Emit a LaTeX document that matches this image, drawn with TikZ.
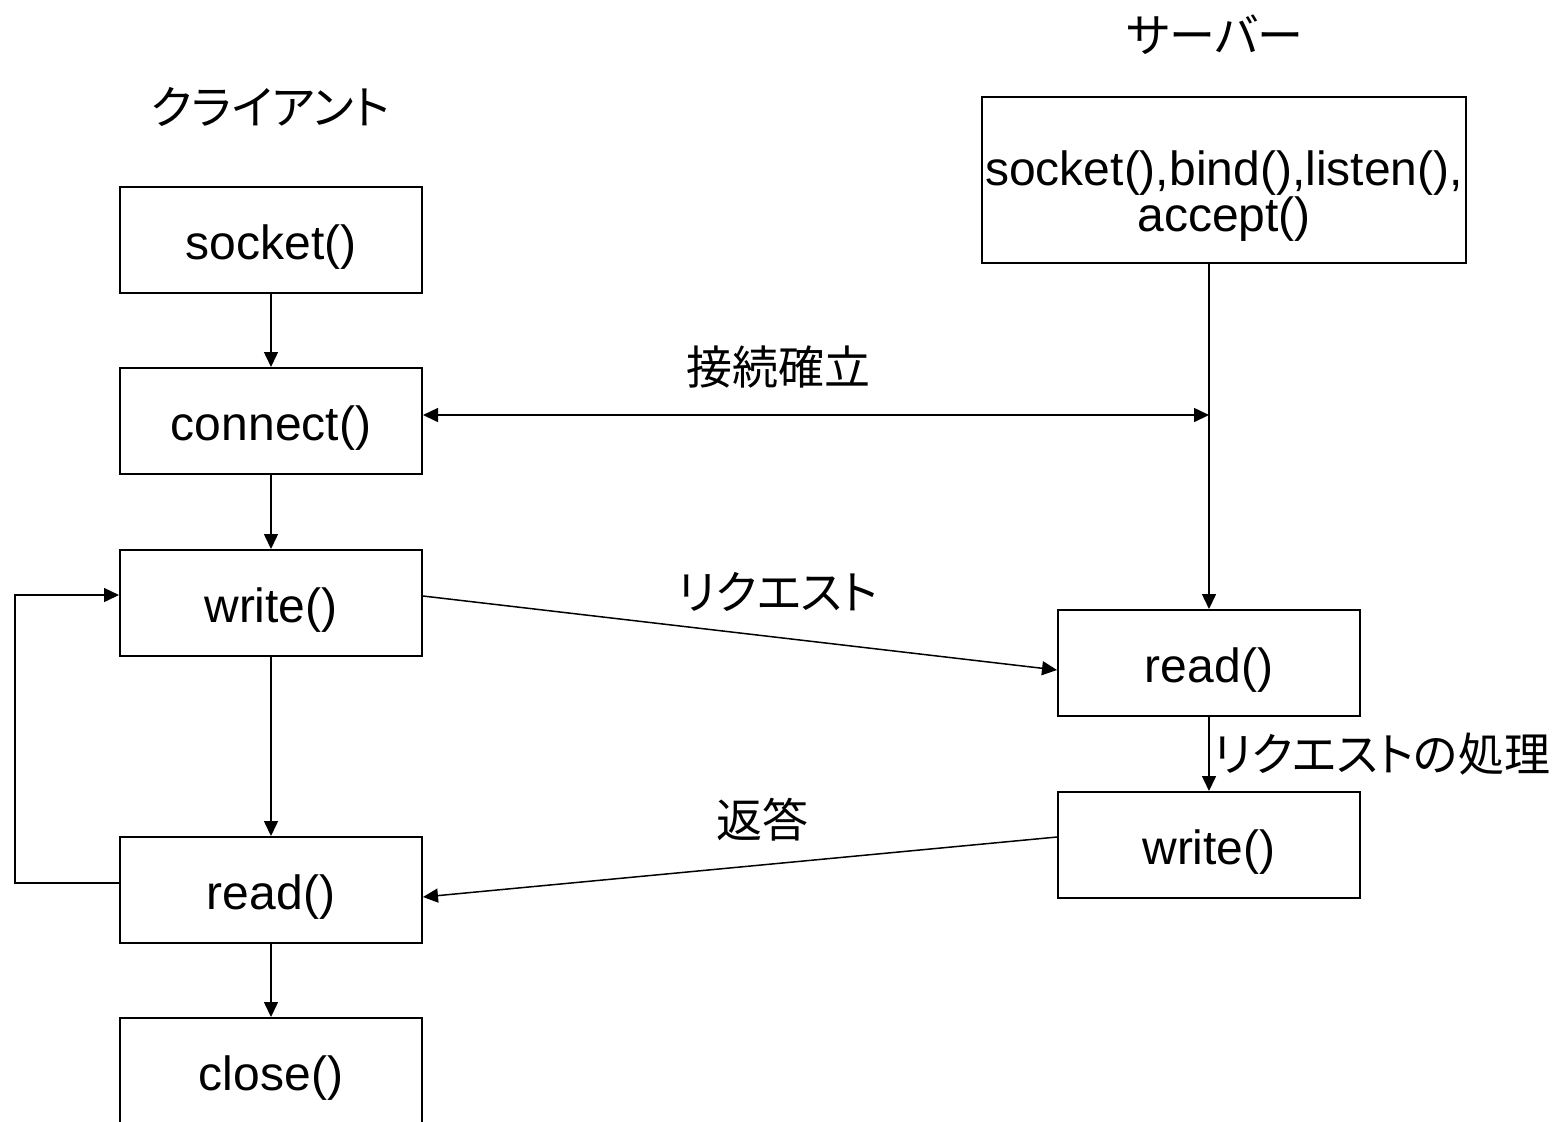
\documentclass[tikz,border=0pt]{standalone}
\usepackage{fontspec}
\setmainfont{Liberation Sans}
\newfontfamily\jfont[RawFeature=+palt]{Noto Sans CJK JP}
\usetikzlibrary{arrows.meta}
\tikzset {>={Triangle[length=7.5pt,width=7pt]}}

\begin{document}
\begin{tikzpicture}[x=.5pt,y=-.5pt,line width=.75pt,
  font=\fontsize{24}{23}\selectfont,
  frame/.style={draw,line width=1pt,minimum width=151pt,minimum height=53pt,inner sep=1pt},
  func/.style={frame,text height=24pt,text depth=5pt},
  jlabel/.style={font=\fontsize{23}{23}\selectfont\jfont,inner sep=0pt}]
\useasboundingbox (0,0) rectangle (1552,1121);

% client side
\node[jlabel] (client) at (270,107) {クライアント};
\node[func] (csock)  at (271,240)  {socket()};
\node[func] (cconn)  at (271,421)  {connect()};
\node[func] (cwrite) at (271,603)  {write()};
\node[func] (cread)  at (271,890)  {read()};
\node[func] (cclose) at (271,1071) {close()};

% server side
\node[jlabel] (server) at (1215,35) {サーバー};
\node[frame,minimum width=242pt,minimum height=83pt] (sinit) at (1224,180) {};
\node[align=center,anchor=north,inner sep=0pt] (sinittext) at (1224,150)
  {socket(),bind(),listen(),\\accept()};
\node[func] (sread)  at (1209,663) {read()};
\node[func] (swrite) at (1209,845) {write()};

\coordinate (estab) at (1209,415);
\coordinate (loop) at (15,883);

\draw[->] (csock) -- (cconn);
\draw[->] (cconn) -- (cwrite);
\draw[->] (cwrite) -- (cread);
\draw[->] (cread) -- (cclose);
\draw[->] ([yshift=3.5pt]cread.west) -- (loop) |- ([yshift=4pt]cwrite.west);

\draw[->] (sinit.south -| sread.north) -- (sread);
\draw[->] (sread) -- (swrite)
  node[jlabel,midway,right,xshift=2pt] (proc) {リクエストの処理};

\draw[<->] (cconn.east |- estab) -- (estab);
\draw[->] ([yshift=3.5pt]cwrite.east) -- ([yshift=-3.5pt]sread.west);
\draw[->] ([yshift=4pt]swrite.west) -- ([yshift=-3.5pt]cread.east);

\node[jlabel] (conn) at (778,367) {接続確立};
\node[jlabel] (req) at (778,592) {リクエスト};
\node[jlabel] (resp) at (762,820) {返答};
\end{tikzpicture}
\end{document}
